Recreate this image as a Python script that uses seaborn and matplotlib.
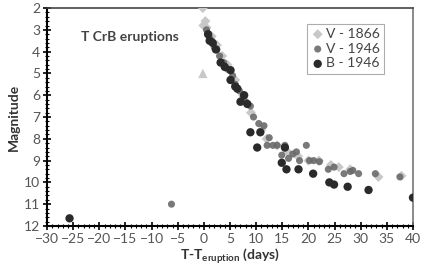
import numpy as np
import pandas as pd
import matplotlib
matplotlib.use('Agg')
import matplotlib.pyplot as plt
import seaborn as sns
from matplotlib.ticker import MultipleLocator

# V - 1866 (light diamonds)
v1866_t = [-0.2, 0.3, -0.1, 0.5, 1.5, 2.5, 3.5, 4.5, 6.0, 7.5, 9.0, 11.0, 12.0, 14.0,
           16.0, 18.0, 20.0, 22.0, 24.3, 25.8, 28.0, 33.4, 37.8]
v1866_mag = [2.0, 2.6, 2.8, 2.9, 3.3, 3.7, 4.2, 4.6, 5.3, 6.0, 6.8, 7.6, 8.0, 8.3,
             8.6, 8.8, 9.0, 9.0, 9.2, 9.3, 9.4, 9.75, 9.7]
# single triangle point, same colour as 1866
v1866_tri_t = [-0.2]
v1866_tri_mag = [5.0]

# V - 1946 (medium grey circles)
v1946_t = [-6.2, 0.5, 1.0, 1.5, 2.0, 2.5, 3.0, 3.8, 4.5, 5.5, 6.0, 6.8, 7.5, 8.0, 8.9,
           9.5, 10.5, 11.5, 12.5, 12.1, 13.2, 14.0, 15.5, 14.9, 16.2, 17.0, 17.7, 18.3,
           19.6, 20.2, 21.0, 22.1, 23.8, 24.9, 26.8, 28.0, 28.5, 29.6, 32.8, 37.5]
v1946_mag = [11.0, 3.0, 3.3, 3.5, 3.8, 3.9, 4.2, 4.5, 4.8, 5.1, 5.5, 5.8, 6.1, 6.3, 6.5,
             7.0, 7.3, 7.4, 7.95, 8.3, 8.3, 8.3, 8.3, 8.75, 8.9, 8.7, 8.6, 9.0,
             8.3, 9.0, 9.0, 9.05, 9.4, 9.3, 9.6, 9.5, 9.45, 9.6, 9.6, 9.75]

# B - 1946 (dark circles)
b1946_t = [-25.7, 0.8, 1.1, 1.7, 2.3, 3.2, 4.0, 5.1, 5.1, 6.0, 6.4, 7.0, 7.7, 8.3, 8.9,
           10.2, 10.8, 15.5, 14.9, 15.8, 18.1, 20.9, 24.0, 24.9, 27.5, 31.5, 40.0]
b1946_mag = [11.65, 3.2, 3.5, 3.6, 3.9, 4.5, 4.7, 4.85, 5.3, 5.6, 5.7, 6.3, 6.0, 6.4, 7.7,
             8.4, 7.7, 8.4, 9.1, 9.4, 9.4, 9.6, 10.0, 10.1, 10.2, 10.35, 10.7]

sns.set_style('white')
plt.rcParams['font.family'] = ['Lato', 'DejaVu Sans']

fig = plt.figure(figsize=(4.24, 2.69), dpi=100)
ax = fig.add_axes([0.111, 0.160, 0.863, 0.810])

sns.scatterplot(x=v1866_t, y=v1866_mag, marker='D', s=26, color='#c8c8c8',
                edgecolor='none', label='V - 1866', ax=ax, zorder=3)
sns.scatterplot(x=v1866_tri_t, y=v1866_tri_mag, marker='^', s=45, color='#c8c8c8',
                edgecolor='none', ax=ax, zorder=3)
sns.scatterplot(x=v1946_t, y=v1946_mag, marker='o', s=26, color='#6a6a6a',
                edgecolor='none', label='V - 1946', ax=ax, zorder=4, alpha=0.9)
sns.scatterplot(x=b1946_t, y=b1946_mag, marker='o', s=36, color='#2a2a2a',
                edgecolor='none', label='B - 1946', ax=ax, zorder=5)

ax.set_xlim(-30, 40)
ax.set_ylim(12, 2)
ax.xaxis.set_major_locator(MultipleLocator(5))
ax.xaxis.set_minor_locator(MultipleLocator(1))
ax.yaxis.set_major_locator(MultipleLocator(1))
ax.yaxis.set_minor_locator(MultipleLocator(0.2))
ax.tick_params(which='major', direction='inout', length=6, width=1.2, color='black',
               labelsize=10, labelcolor='#555555', left=True, bottom=True, pad=2)
ax.tick_params(which='minor', direction='inout', length=3, width=0.8, color='black',
               left=True, bottom=True)

for side in ['left', 'bottom']:
    ax.spines[side].set_color('black')
    ax.spines[side].set_linewidth(1.5)
ax.spines['top'].set_color('#444444')
ax.spines['top'].set_linewidth(1.2)
ax.spines['right'].set_color('#777777')
ax.spines['right'].set_linewidth(1.2)

ax.set_ylabel('Magnitude', fontsize=10, fontweight='bold', color='#333333', labelpad=3)
ax.set_xlabel(r'T-T$_{\mathregular{eruption}}$ (days)', fontsize=10, fontweight='bold',
              color='#333333', labelpad=1)

ax.text(0.094, 0.867, 'T CrB eruptions', transform=ax.transAxes, fontsize=10,
        fontweight='bold', color='#444444', va='center', ha='left')

leg = ax.legend(loc='upper right', bbox_to_anchor=(0.94, 0.96), fontsize=10,
                frameon=True, fancybox=False, handletextpad=0.1, borderpad=0.3,
                labelspacing=0.2, handlelength=1.0, labelcolor='#444444')
leg.get_frame().set_edgecolor('#999999')
leg.get_frame().set_linewidth(0.8)

plt.savefig('out.png', dpi=100)
